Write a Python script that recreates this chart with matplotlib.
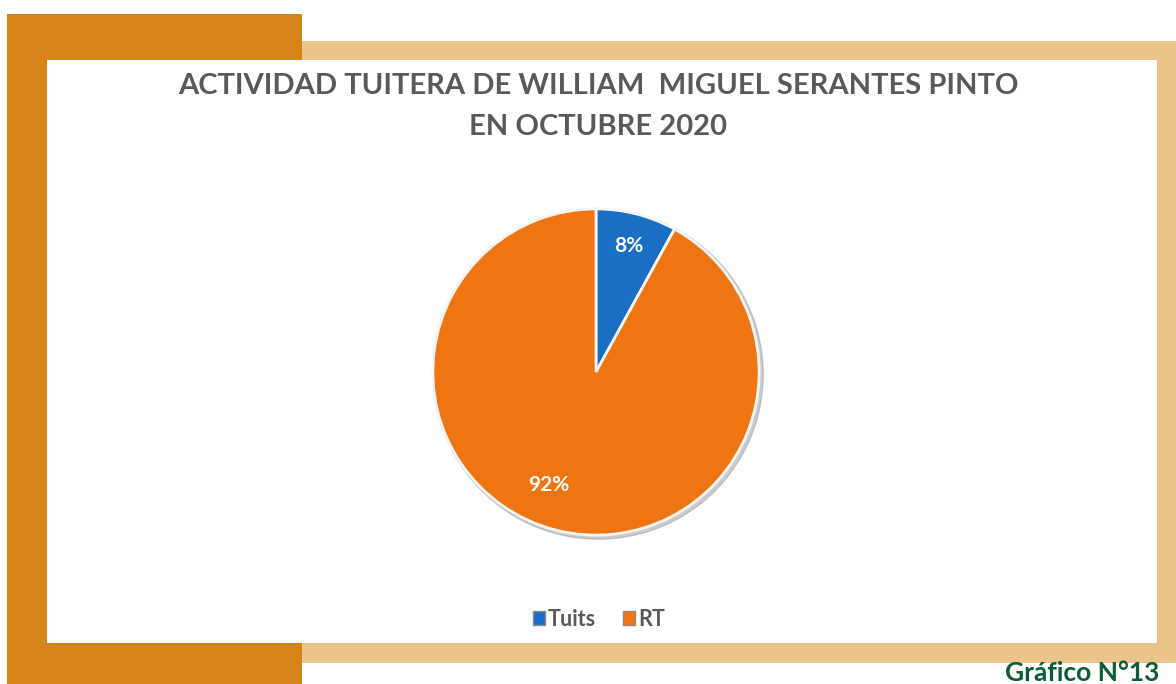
import matplotlib
matplotlib.use('Agg')
from matplotlib import pyplot
from matplotlib.patches import Rectangle, Circle

# data
labels = ['Tuits', 'RT']
shares = [8, 92]
slice_colors = ['#1A6FC4', '#EE7512']

title_lines = ['ACTIVIDAD TUITERA DE WILLIAM  MIGUEL SERANTES PINTO', 'EN OCTUBRE 2020']
caption = 'Gráfico N°13'

W, H = 1176, 684
fig = pyplot.figure(figsize=(W / 100, H / 100), dpi=100)

# background frame drawn in pixel coordinates
bg = fig.add_axes([0, 0, 1, 1])
bg.set_xlim(0, W)
bg.set_ylim(H, 0)
bg.axis('off')

dark = '#D6841A'
tan = '#EBC48C'
bg.add_patch(Rectangle((302, 41), W - 302, 622, color=tan, lw=0))
bg.add_patch(Rectangle((7, 14), 295, 670, color=dark, lw=0))
bg.add_patch(Rectangle((47, 60), 1110, 583, color='white', lw=0))

for y, line in zip([86, 127], title_lines):
    bg.text(598, y, line, ha='center', va='center', fontsize=21,
            fontweight='bold', color='#595959', family='Lato')
bg.text(1005, 681, caption, ha='left', va='baseline', fontsize=19,
        fontweight='bold', color='#0E5C33', family='Lato')

# pie
cx, cy, r = 596, 372, 168
ax = fig.add_axes([(cx - r) / W, (H - cy - r) / H, 2 * r / W, 2 * r / H])
ax.add_patch(Circle((0.015, -0.015), 1.01, color='#9A9A9A', alpha=0.5, zorder=0))
wedges, texts, autotexts = ax.pie(
    shares, colors=slice_colors, startangle=90, counterclock=False,
    autopct='%1.0f%%', pctdistance=0.8,
    wedgeprops=dict(edgecolor='#F4F4F4', linewidth=2),
    textprops=dict(color='white', fontsize=15, fontweight='bold', family='Lato'))
ax.set_xlim(-1.03, 1.03)
ax.set_ylim(-1.03, 1.03)
autotexts[1].set_position((-0.29, -0.69))

# legend
for x, col, name in [(533, slice_colors[0], labels[0]), (623, slice_colors[1], labels[1])]:
    bg.add_patch(Rectangle((x, 611), 12, 14, facecolor=col, edgecolor='#8A8A8A', lw=1))
    bg.text(x + 15, 619, name, ha='left', va='center', fontsize=15.5,
            fontweight='bold', color='#595959', family='Lato')

fig.savefig('out.png', dpi=100)
